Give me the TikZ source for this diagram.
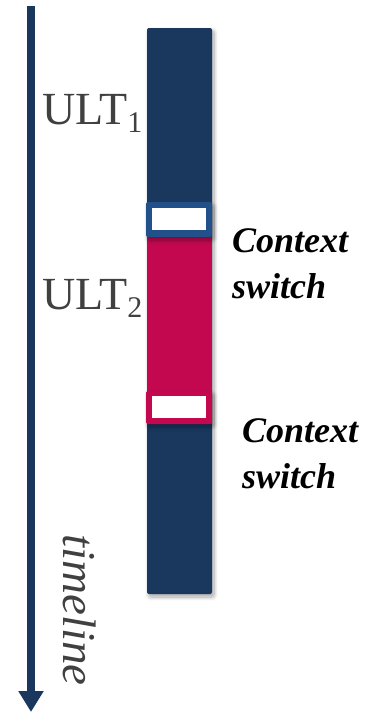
\documentclass[tikz,border=0pt]{standalone}
\usepackage{fontspec}
\setmainfont{Liberation Serif}
\usetikzlibrary{arrows.meta,shadows.blur}

\definecolor{navy}{HTML}{1A375E}
\definecolor{crimson}{HTML}{C4084F}
\definecolor{framblue}{HTML}{22508A}
\definecolor{labelgray}{HTML}{404040}

\tikzset{
  softshadow/.style={blur shadow={shadow xshift=2pt, shadow yshift=-3pt,
      shadow blur steps=8, shadow blur radius=4pt, shadow opacity=35}},
  ultlabel/.style={anchor=base west, inner sep=0pt, text=labelgray,
      font=\fontsize{46}{46}\selectfont},
  switchlabel/.style={anchor=north west, inner sep=0pt, align=left,
      font=\fontsize{36}{46}\selectfont\bfseries\itshape},
  slot/.style={fill=white, draw=none},
}
\newcommand{\ultsub}[1]{\raisebox{-8pt}{\fontsize{30}{30}\selectfont #1}}

\begin{document}
\begin{tikzpicture}[x=1pt, y=-1pt]
  \useasboundingbox (0,0) rectangle (373,712);

  % time axis
  \coordinate (tstart) at (31,6);
  \coordinate (tend) at (31,712);
  \draw[navy, line width=8pt, -{Triangle[width=24pt,length=21pt]}] (tstart) -- (tend);
  \node[rotate=-90, anchor=base, inner sep=0pt, text=labelgray,
        font=\fontsize{47}{47}\selectfont\itshape] (tl) at (63,610) {timeline};

  % execution bar
  \fill[navy, rounded corners=2pt, softshadow] (147,28) rectangle (212,594);
  \fill[crimson] (147,226) rectangle (212,424);

  % first context switch slot
  \fill[framblue, rounded corners=2pt, softshadow] (146,202) rectangle (212,237);
  \fill[slot] (152,208) rectangle (206,230);

  % second context switch slot
  \fill[crimson, rounded corners=2pt, softshadow] (146,391) rectangle (212,424);
  \fill[slot] (152,396) rectangle (206,418);

  % labels
  \node[ultlabel] (u1) at (42,124) {ULT\ultsub{1}};
  \node[ultlabel] (u2) at (42,309) {ULT\ultsub{2}};
  \node[switchlabel] (cs1) at (232,228) {Context\\switch};
  \node[switchlabel] (cs2) at (242,418) {Context\\switch};
\end{tikzpicture}
\end{document}
